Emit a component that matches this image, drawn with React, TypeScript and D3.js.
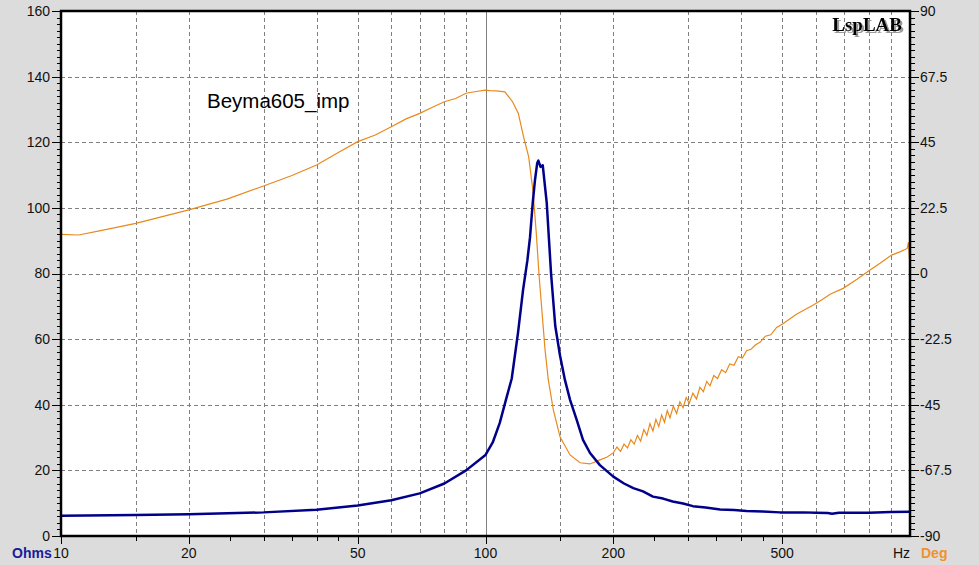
import * as d3 from "d3";

// impedance curve (Ohms, left axis)
const impFreq = [10, 15, 20, 30, 40, 50, 60, 70, 80, 90, 100, 104, 108, 112, 115.3, 119.3, 122.6, 125.5, 127.3, 129.2, 130.8, 132.4, 133.2, 134.8, 136.4, 139.4, 142.7, 146, 149.8, 153.9, 158.2, 164, 169.7, 176.3, 186, 200, 212, 223, 235, 248, 262, 276, 292, 308, 330, 357, 385, 412, 450, 494, 560, 600, 640, 655, 680, 710, 800, 900, 1000];
const impOhms = [6.2, 6.4, 6.6, 7.2, 8.0, 9.3, 10.9, 13.0, 16.0, 20.0, 24.7, 28.5, 34.4, 42, 48, 62, 75, 84, 91, 101.5, 108.5, 113.7, 114.4, 112.5, 113, 101.5, 80, 64, 55, 47.5, 41.5, 35.4, 29.3, 25.3, 21.6, 18.1, 16.0, 14.6, 13.6, 12.0, 11.4, 10.5, 9.9, 9.1, 8.7, 8.1, 7.9, 7.6, 7.5, 7.2, 7.2, 7.1, 7.0, 6.8, 7.1, 7.1, 7.1, 7.3, 7.4];

// phase curve (Deg, right axis)
const phFreq = [10, 11, 12.4, 15, 20, 24.6, 30, 35, 40, 45, 50, 55, 60, 65, 70, 75, 80, 85, 90, 95, 100, 102.4, 106, 111.1, 115.8, 119.5, 122.9, 126.4, 129.3, 131.6, 133.8, 138.1, 140.6, 144.5, 149.8, 158.2, 167, 176.3, 186, 193,
  200, 204, 208, 212, 216, 220, 224, 228, 232, 236, 240, 244, 248, 252, 256, 260, 264, 268, 272, 277, 282, 287, 292, 297, 302, 308, 314, 320, 326, 332, 338, 345, 352, 360, 368, 376, 385, 394, 403, 412, 422, 432, 444, 456, 470, 485, 502,
  540, 592, 620, 650, 696, 750, 805, 850, 905, 950, 985, 992, 997, 1000];
const phDeg = [13.4, 13.2, 14.7, 17.2, 21.8, 25.5, 30, 33.6, 37.2, 41.5, 45.2, 47.5, 50.3, 53.0, 54.9, 57.0, 58.9, 60.0, 61.8, 62.4, 62.9, 62.7, 62.6, 62.3, 58.9, 54.9, 46.9, 40, 28.6, 14.6, -1.1, -26, -36.5, -46.8, -56, -62.2, -64.9, -65.3, -63.9, -63.0,
  -61.5, -59.5, -61.0, -58.5, -59.8, -57.0, -58.5, -55.5, -57.5, -53.5, -55.5, -51.5, -54.0, -50.0, -52.5, -48.5, -51.0, -47.0, -49.5, -45.5, -48.0, -44.0, -46.0, -42.5, -44.5, -41.0, -43.0, -39.0, -40.5, -37.0, -38.5, -35.0, -36.0, -33.0, -34.0, -31.0, -31.5, -28.5, -29.0, -26.5, -26.0, -24.5, -23.5, -21.5, -21.0, -18.5, -17.2,
  -14, -10.8, -9.0, -7.0, -5.1, -2.0, 1.2, 3.5, 6.3, 7.5, 8.6, 10.8, 4.8, 6.0];

const xLabelTicks = [10, 20, 50, 100, 200, 500];
const xShortTicks = [15, 25, 30, 35, 40, 45, 150, 250, 300, 350, 400, 450];
const xGridLines = [15, 20, 30, 40, 50, 60, 70, 80, 90, 150, 200, 300, 400, 500, 600, 700, 800, 900];
const leftLabels = [0, 20, 40, 60, 80, 100, 120, 140, 160];
const rightLabels = [-90, -67.5, -45, -22.5, 0, 22.5, 45, 67.5, 90];

const W = 979;
const H = 565;
const left = 61, right = 910, top = 11, bottom = 536;
const navy = "#00008b";
const orange = "#e8891c";
const font = "'Liberation Sans', Arial, sans-serif";

export default function App() {
  const x = d3.scaleLog().domain([10, 1000]).range([left, right]);
  const yL = d3.scaleLinear().domain([0, 160]).range([bottom, top]);
  const yR = d3.scaleLinear().domain([-90, 90]).range([bottom, top]);

  const impLine = d3.line<number>()
    .x((_, i) => x(impFreq[i]))
    .y(d => yL(d));
  const phLine = d3.line<number>()
    .x((_, i) => x(phFreq[i]))
    .y(d => yR(d));

  const minorL = d3.range(0, 161, 2);
  const minorR = d3.range(0, 81).map(i => -90 + i * 2.25);

  return (
    <svg width={W} height={H} style={{ position: "fixed", left: 0, top: 0, display: "block" }}>
      <defs>
        <filter id="logoShadow" x="-10%" y="-20%" width="130%" height="160%">
          <feDropShadow dx={2} dy={2} stdDeviation={0} floodColor="#9a9a9a" floodOpacity={1} />
        </filter>
      </defs>
      <rect width={W} height={H} fill="#dcdcdc" />
      <rect x={left} y={top} width={right - left} height={bottom - top} fill="#fff" />

      {/* grid */}
      <g stroke="#808080" strokeWidth={1} strokeDasharray="4,3">
        {leftLabels.slice(1, -1).map(v => (
          <line key={"h" + v} x1={left} x2={right} y1={Math.round(yL(v)) + 0.5} y2={Math.round(yL(v)) + 0.5} />
        ))}
        {xGridLines.map(f => (
          <line key={"v" + f} x1={Math.round(x(f)) + 0.5} x2={Math.round(x(f)) + 0.5} y1={top} y2={bottom} />
        ))}
      </g>
      <line x1={Math.round(x(100)) + 0.5} x2={Math.round(x(100)) + 0.5} y1={top} y2={bottom} stroke="#808080" strokeWidth={1} />

      <text x={207} y={108} fontFamily={font} fontSize={20.5} fill="#000">Beyma605_imp</text>

      {/* curves */}
      <path d={phLine(phDeg) ?? ""} fill="none" stroke={orange} strokeWidth={1.2} />
      <path d={impLine(impOhms) ?? ""} fill="none" stroke={navy} strokeWidth={2.5} strokeLinejoin="round" />

      {/* logo */}
      <text x={902} y={31} textAnchor="end" fill="#000" filter="url(#logoShadow)"
        fontFamily="'Liberation Serif', 'Times New Roman', serif" fontWeight="bold" fontSize={19}>LspLAB</text>

      {/* frame */}
      <rect x={left} y={top} width={right - left} height={bottom - top} fill="none" stroke="#000" strokeWidth={2.5} />

      {/* ticks */}
      <g stroke="#000" strokeWidth={1}>
        {minorL.map(v => (
          <line key={"lm" + v} x1={left - (v % 20 === 0 ? 9 : 4)} x2={left} y1={Math.round(yL(v)) + 0.5} y2={Math.round(yL(v)) + 0.5} />
        ))}
        {minorR.map((v, i) => (
          <line key={"rm" + i} x1={right} x2={right + (i % 10 === 0 ? 9 : 5)} y1={Math.round(yR(v)) + 0.5} y2={Math.round(yR(v)) + 0.5} />
        ))}
        {xLabelTicks.map(f => (
          <line key={"bt" + f} x1={Math.round(x(f)) + 0.5} x2={Math.round(x(f)) + 0.5} y1={bottom} y2={bottom + 8} />
        ))}
        {xShortTicks.map(f => (
          <line key={"bs" + f} x1={Math.round(x(f)) + 0.5} x2={Math.round(x(f)) + 0.5} y1={bottom} y2={bottom + 5} />
        ))}
      </g>

      <g fontFamily={font} fontSize={14} fill="#111">
        {leftLabels.map(v => (
          <text key={"ll" + v} x={50} y={yL(v)} dy="0.35em" textAnchor="end">{v}</text>
        ))}
        {rightLabels.map(v => (
          <text key={"rl" + v} x={920} y={yR(v)} dy="0.35em" textAnchor="start">{v}</text>
        ))}
        {xLabelTicks.map(f => (
          <text key={"bl" + f} x={x(f)} y={558} textAnchor="middle">{f}</text>
        ))}
        <text x={910} y={558} textAnchor="end">Hz</text>
      </g>
      <text x={12} y={558} fontFamily={font} fontSize={14} fontWeight="bold" fill="#1a1a9c">Ohms</text>
      <text x={921} y={558} fontFamily={font} fontSize={14} fontWeight="bold" fill="#f0922b">Deg</text>
    </svg>
  );
}
